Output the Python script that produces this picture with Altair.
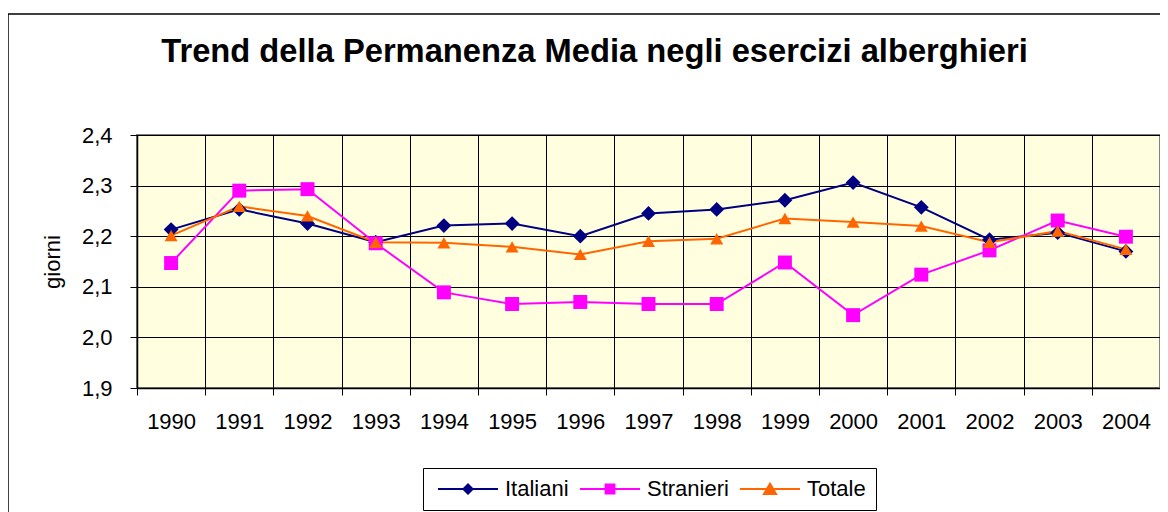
import altair as alt
import pandas as pd

anni = [str(a) for a in range(1990, 2005)]
italiani = [2.213, 2.253, 2.225, 2.188, 2.221, 2.225, 2.200, 2.245, 2.253, 2.271, 2.306, 2.257, 2.193, 2.207, 2.170]
stranieri = [2.147, 2.290, 2.293, 2.186, 2.089, 2.066, 2.070, 2.066, 2.066, 2.148, 2.044, 2.124, 2.172, 2.231, 2.199]
totale = [2.201, 2.259, 2.240, 2.188, 2.187, 2.179, 2.164, 2.190, 2.195, 2.235, 2.228, 2.220, 2.188, 2.210, 2.174]
serie = ["Italiani", "Stranieri", "Totale"]
colori = ["#000080", "#FF00FF", "#FF6600"]
y_ticks = [1.9, 2.0, 2.1, 2.2, 2.3, 2.4]

rows = []
for nome, vals in zip(serie, [italiani, stranieri, totale]):
    for a, v in zip(anni, vals):
        rows.append({"anno": a, "valore": v, "serie": nome})
df = pd.DataFrame(rows)

FONT = "Liberation Sans"
FS = 22
W, H = 1023, 253

x_enc = alt.X(
    "anno:O",
    scale=alt.Scale(type="band", paddingInner=0, paddingOuter=0),
    bandPosition=0.5,
    axis=alt.Axis(
        title=None, labelAngle=0, tickBand="extent", grid=True,
        gridColor="#000000", gridOpacity=1, gridWidth=1,
        tickColor="#000000", tickSize=7, domainColor="#000000", domainWidth=1.5,
        labelFontSize=FS, labelFont=FONT, labelColor="#000000", labelPadding=16,
    ),
)
y_enc = alt.Y(
    "valore:Q",
    scale=alt.Scale(domain=[1.9, 2.4], nice=False, zero=False),
    axis=alt.Axis(
        values=y_ticks,
        labelExpr="replace(format(datum.value, '.1f'), '.', ',')",
        title="giorni", titleFont=FONT, titleFontSize=FS, titleFontWeight="normal",
        titleColor="#000000", titleX=-78, titleY=H / 2, titleAngle=-90,
        titleAlign="center", titleBaseline="alphabetic",
        grid=True, gridColor="#000000", gridOpacity=1, gridWidth=1,
        tickColor="#000000", tickSize=7, domainColor="#000000", domainWidth=1.5,
        labelFontSize=FS, labelFont=FONT, labelColor="#000000", labelPadding=18,
    ),
)


def color_enc(legend=None):
    if legend is None:
        return alt.Color("serie:N", scale=alt.Scale(domain=serie, range=colori), legend=None)
    return alt.Color("serie:N", scale=alt.Scale(domain=serie, range=colori), legend=legend)


frame = alt.Chart(alt.Data(values=[{"k": 1}])).mark_rect(
    fillOpacity=0, stroke="#000000", strokeWidth=1.5
).encode(
    x=alt.value(-129), x2=alt.value(W + 60), y=alt.value(-121), y2=alt.value(H + 160)
)

lines = alt.Chart(df).mark_line(strokeWidth=2).encode(x=x_enc, y=y_enc, color=color_enc())

points = alt.Chart(df).mark_point(filled=True, opacity=1).encode(
    x=x_enc, y=y_enc, color=color_enc(),
    shape=alt.Shape("serie:N", scale=alt.Scale(domain=serie, range=["diamond", "square", "triangle-up"]), legend=None),
    size=alt.Size("serie:N", scale=alt.Scale(domain=serie, range=[220, 170, 260]), legend=None),
)

line_path = "M-1,-0.17H9V0.17H-1Z "
leg_paths = [
    line_path + "M4,-1L5,0L4,1L3,0Z",
    line_path + "M3.1,-0.9H4.9V0.9H3.1Z",
    line_path + "M4,-1.2L5.3,1L2.7,1Z",
]
leg_props = dict(
    title=None, orient="none", legendX=286, legendY=333, direction="horizontal",
    symbolSize=144, symbolOpacity=1, symbolStrokeWidth=0, labelOffset=50,
    labelFontSize=FS, labelFont=FONT, labelColor="#000000", columnPadding=6,
    padding=10, strokeColor="#000000", fillColor="#FFFFFF",
)
legend_layer = alt.Chart(df).transform_filter("false").mark_point(filled=True, opacity=1).encode(
    x=x_enc, y=y_enc,
    color=color_enc(alt.Legend(**leg_props)),
    shape=alt.Shape("serie:N", scale=alt.Scale(domain=serie, range=leg_paths), legend=alt.Legend(**leg_props)),
)

chart = alt.layer(frame, lines, points, legend_layer).resolve_scale(
    color="independent", shape="independent", size="independent"
).properties(
    width=W, height=H,
    autosize=alt.AutoSizeParams(type="none"),
    padding={"left": 129, "top": 127, "right": 0, "bottom": 124},
    title=alt.Title(
        "Trend della Permanenza Media negli esercizi alberghieri",
        font=FONT, fontSize=32.7, fontWeight="bold", color="#000000",
        anchor="start", dx=154, offset=-81, baseline="alphabetic",
    ),
).configure_view(stroke="#808080", strokeWidth=2, fill="#FFFFE0")

chart.save("out.html", embed_options={"renderer": "svg", "actions": False})
